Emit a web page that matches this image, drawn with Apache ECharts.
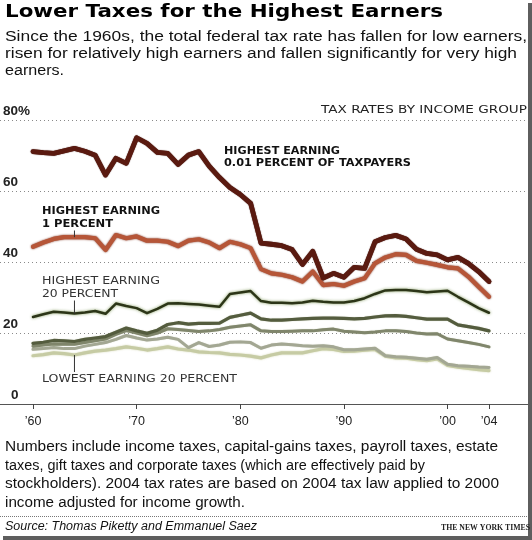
<!DOCTYPE html>
<html><head><meta charset="utf-8">
<script src="https://cdn.jsdelivr.net/npm/echarts@6/dist/echarts.min.js"></script>
<style>html,body{margin:0;padding:0;background:#fff;}#c{width:532px;height:540px;}</style>
</head><body><div id="c"></div>
<script>
// ---------------- DATA ----------------
const years = [1960,1961,1962,1963,1964,1965,1966,1967,1968,1969,
  1970,1971,1972,1973,1974,1975,1976,1977,1978,1979,
  1980,1981,1982,1983,1984,1985,1986,1987,1988,1989,
  1990,1991,1992,1993,1994,1995,1996,1997,1998,1999,
  2000,2001,2002,2003,2004];
const top001 = [71.1,70.8,70.6,71.3,72.0,71.2,70.1,64.5,69.2,67.8,
  75.0,73.4,70.9,70.6,67.5,70.1,71.1,67.0,63.8,61.0,
  59.0,56.5,45.3,45.0,44.6,43.5,39.3,43.0,35.5,36.8,
  35.7,38.5,38.2,45.7,46.9,47.5,46.5,43.6,42.4,42.0,
  40.6,41.3,39.6,37.3,34.5];
const top1 = [44.3,45.5,46.5,47.0,47.0,47.0,46.7,43.4,47.6,46.7,
  47.2,46.0,46.0,45.7,44.5,46.0,46.4,45.5,43.9,45.7,
  45.0,43.9,38.0,36.8,36.4,35.7,34.5,37.3,33.5,33.8,
  33.3,34.5,35.4,39.6,41.3,42.2,42.0,40.3,39.8,39.2,
  38.5,38.2,35.9,33.0,30.2];
const top20 = [24.5,25.3,26.0,25.8,25.5,25.8,26.2,25.4,28.3,27.6,
  27.0,25.6,26.8,28.3,28.4,28.2,28.0,27.7,27.4,31.0,
  31.4,31.8,29.0,28.5,28.5,28.4,28.6,29.1,28.8,28.6,
  28.6,29.0,29.8,31.0,32.0,32.1,32.1,31.8,31.5,31.7,
  31.9,30.2,28.6,27.0,25.7];
const fourth20 = [17.1,17.4,17.9,17.8,17.6,18.2,18.6,19.0,20.2,21.4,
  20.6,19.9,20.8,22.4,22.9,22.5,22.7,22.7,22.8,24.4,
  25.0,25.6,24.0,23.6,23.6,23.8,24.0,24.1,24.2,24.2,
  24.1,24.0,24.1,24.5,24.8,24.9,24.7,24.3,23.9,23.9,
  23.9,22.3,21.8,21.3,20.6];
const middle20 = [16.3,16.6,16.9,16.8,16.8,17.3,17.8,18.3,19.6,20.7,
  20.0,19.2,20.0,21.2,21.0,20.7,20.4,20.6,21.0,21.6,
  22.0,22.3,20.6,20.4,20.4,20.5,20.6,20.6,20.9,21.1,
  20.5,20.3,20.1,20.3,20.6,20.6,20.4,20.0,19.7,19.8,
  18.3,17.8,17.3,16.8,16.1];
const second20 = [15.4,15.6,15.9,15.6,15.6,16.3,16.8,17.3,18.2,19.3,
  18.6,18.0,18.3,18.8,18.2,15.9,17.3,16.2,16.6,17.4,
  17.5,17.3,15.7,16.6,16.9,16.7,16.4,16.3,16.4,16.1,
  15.3,15.3,15.5,15.7,13.6,13.3,13.2,12.9,12.6,13.1,
  11.2,10.8,10.6,10.4,10.3];
const lowest20 = [13.6,13.9,14.4,14.2,13.8,14.4,14.9,15.2,15.6,16.1,
  15.7,15.2,15.6,16.1,15.5,15.2,14.7,14.5,14.4,14.0,
  13.8,13.5,13.0,13.8,14.4,14.4,14.4,15.0,15.6,15.4,
  14.8,14.9,15.2,15.4,13.5,13.0,12.9,12.5,12.2,12.7,
  10.9,10.4,10.0,9.7,9.4];
const tickYears = [1960,1970,1980,1990,2000,2004];
const yTicks = [0,20,40,60,80];
const labelYear = 1964;

// ---------------- LAYOUT ----------------
const GRID_L = 0, GRID_R = 528, X_FIRST = 33, X_LAST = 489;
const ppy = (X_LAST - X_FIRST) / (years[years.length-1] - years[0]);
const xMin = years[0] - (X_FIRST - GRID_L) / ppy;
const xMax = years[years.length-1] + (GRID_R - X_LAST) / ppy;

const pairs = arr => years.map((y, i) => [y, arr[i]]);

const chart = echarts.init(document.getElementById('c'), null, {renderer: 'canvas'});

function line(name, data, color, width, shadow, blur) {
  return {
    name, type: 'line', data: pairs(data), symbol: 'none', smooth: false,
    lineStyle: {color, width, shadowColor: shadow || 'transparent', shadowBlur: blur || 0, cap: 'round', join: 'round'},
    emphasis: {disabled: true}, silent: true, animation: false
  };
}

const yLabStyle = {fontWeight: 'bold', fontSize: 13.5, color: '#222', fontFamily: 'Liberation Sans'};

chart.setOption({
  animation: false,
  backgroundColor: '#ffffff',
  grid: {left: GRID_L, right: 532 - GRID_R, top: 120, bottom: 136, containLabel: false},
  xAxis: {
    type: 'value', min: xMin, max: xMax,
    axisLine: {show: true, onZero: true, lineStyle: {color: '#555', width: 1}},
    axisTick: {show: true, customValues: tickYears, length: 5, lineStyle: {color: '#444', width: 1}},
    axisLabel: {customValues: tickYears, formatter: v => '\u2019' + String(Math.round(v)).slice(2),
      margin: 11, fontSize: 12.5, color: '#222', fontFamily: 'Liberation Sans'},
    splitLine: {show: false}
  },
  yAxis: {
    type: 'value', min: 0, max: 80, interval: 20,
    axisLine: {show: false}, axisTick: {show: false},
    axisLabel: Object.assign({inside: true,
      formatter: v => v === 80 ? '80%' : (v === 0 ? '{z|0}' : String(v)),
      verticalAlign: 'bottom', align: 'left', margin: 3, padding: [0, 0, 2, 0],
      rich: {z: Object.assign({padding: [0, 0, 0, 8]}, yLabStyle)}}, yLabStyle),
    splitLine: {show: true, lineStyle: {color: '#8a8a8a', type: [1, 3], width: 1}}
  },
  series: [
    line('Lowest 20 percent', lowest20, '#c6cba4', 3.2, 'rgba(200,205,160,0.8)', 2),
    line('Second 20 percent', second20, '#a3a793', 3, 'rgba(170,175,150,0.6)', 1),
    line('Middle 20 percent', middle20, '#80866c', 3, 'rgba(140,150,110,0.6)', 1),
    line('Fourth 20 percent', fourth20, '#545c3e', 3.2, 'rgba(120,130,90,0.6)', 1),
    line('Highest 20 percent', top20, '#2c3518', 2.5, 'rgba(120,145,80,0.9)', 3),
    line('Highest 1 percent', top1, '#b65638', 4.2, '#7a2b17', 2),
    line('Highest 0.01 percent', top001, '#5a1a10', 4.8, '#3a0c05', 1)
  ]
});

// ---------------- TEXT ----------------
const mctx = document.createElement('canvas').getContext('2d');
function fit(text, font, target) {
  mctx.font = font;
  const w = mctx.measureText(text).width;
  return target ? target / w : 1;
}
function txt(text, x, y, font, color, target, align) {
  const sx = fit(text, font, target);
  return {
    type: 'text', x, y, scaleX: sx, scaleY: 1, silent: true, z: 100,
    style: {text, x: 0, y: 0, font, fill: color,
      textAlign: align || 'left', align: align || 'left',
      textVerticalAlign: 'middle', verticalAlign: 'middle'}
  };
}
const SANS = '"Liberation Sans", Arial, sans-serif';
const DJ = '"DejaVu Sans", sans-serif';

const g = [];
g.push(txt('Lower Taxes for the Highest Earners', 5, 12.5, 'bold 17px ' + DJ, '#000', 438));
g.push(txt('Since the 1960s, the total federal tax rate has fallen for low earners,', 5, 37, '14px ' + SANS, '#111', 522));
g.push(txt('risen for relatively high earners and fallen significantly for very high', 5, 54, '14px ' + SANS, '#111', 512));
g.push(txt('earners.', 5, 71, '14px ' + SANS, '#111', 59));
g.push(txt('TAX RATES BY INCOME GROUP', 527, 110, '10.5px ' + DJ, '#222', 206, 'right'));

g.push(txt('HIGHEST EARNING', 224, 151.7, 'bold 10px ' + DJ, '#111', 116));
g.push(txt('0.01 PERCENT OF TAXPAYERS', 224, 163.3, 'bold 10px ' + DJ, '#111', 187));
g.push(txt('HIGHEST EARNING', 42, 211.7, 'bold 10px ' + DJ, '#111', 118));
g.push(txt('1 PERCENT', 42, 224, 'bold 10px ' + DJ, '#111', 71));
g.push(txt('HIGHEST EARNING', 42, 281.7, '10px ' + DJ, '#333', 118));
g.push(txt('20 PERCENT', 42, 294, '10px ' + DJ, '#333', 76));
g.push(txt('LOWEST EARNING 20 PERCENT', 42, 379.3, '10px ' + DJ, '#333', 195));

g.push(txt('Numbers include income taxes, capital-gains taxes, payroll taxes, estate', 5, 447, '14px ' + SANS, '#111', 493));
g.push(txt('taxes, gift taxes and corporate taxes (which are effectively paid by', 5, 466, '14px ' + SANS, '#111', 420));
g.push(txt('stockholders). 2004 tax rates are based on 2004 tax law applied to 2000', 5, 484.5, '14px ' + SANS, '#111', 494));
g.push(txt('income adjusted for income growth.', 5, 503, '14px ' + SANS, '#111', 240));
g.push(txt('Source: Thomas Piketty and Emmanuel Saez', 5, 527, 'italic 12px ' + SANS, '#111', 252));
g.push(txt('THE NEW YORK TIMES', 530, 528, 'bold 7.5px "Liberation Serif", serif', '#222', 89, 'right'));

// separator + frame
g.push({type: 'line', silent: true, shape: {x1: 0, y1: 516.5, x2: 528, y2: 516.5}, style: {stroke: '#777', lineWidth: 1, lineDash: [1, 1]}});
g.push({type: 'rect', silent: true, shape: {x: 528, y: 3, width: 4, height: 537}, style: {fill: '#5e5e5e'}});
g.push({type: 'rect', silent: true, shape: {x: 3, y: 536, width: 529, height: 4}, style: {fill: '#5e5e5e'}});

// leader lines from labels to the series they name
const idx = years.indexOf(labelYear);
function leader(seriesData, yFrom) {
  const p = chart.convertToPixel({gridIndex: 0}, [labelYear, seriesData[idx]]);
  return {type: 'line', silent: true, z: 100, shape: {x1: p[0], y1: yFrom, x2: p[0], y2: p[1]},
    style: {stroke: '#333', lineWidth: 1}};
}
g.push(leader(top1, 230.5));
g.push(leader(top20, 300.5));
g.push(leader(lowest20, 372));

chart.setOption({graphic: {elements: g}});
</script>
</body></html>
